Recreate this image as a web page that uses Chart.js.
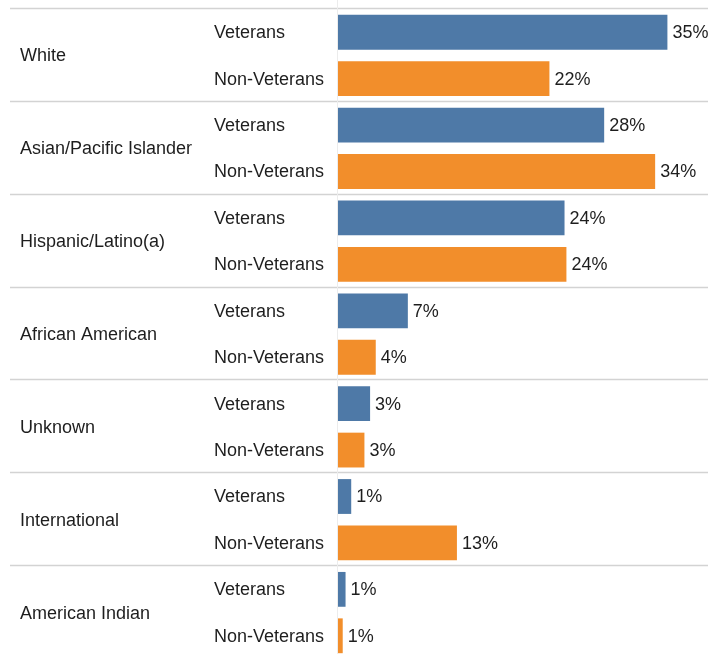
<!DOCTYPE html>
<html>
<head>
<meta charset="utf-8">
<script src="https://cdn.jsdelivr.net/npm/chart.js@4"></script>
<style>
  html, body { margin: 0; padding: 0; background: #fff; overflow: hidden; }
  #wrap { width: 708px; height: 662px; position: relative; }
</style>
</head>
<body>
<div id="wrap"><canvas id="chart"></canvas></div>
<script>
// data
const groups = ['White', 'Asian/Pacific Islander', 'Hispanic/Latino(a)', 'African American', 'Unknown', 'International', 'American Indian'];
const subgroups = ['Veterans', 'Non-Veterans'];
const veterans = [34.9, 28.2, 24.0, 7.4, 3.4, 1.4, 0.8];
const nonVeterans = [22.4, 33.6, 24.2, 4.0, 2.8, 12.6, 0.5];

const BLUE = '#4e79a7';
const ORANGE = '#f28e2b';
const FONT = '"Liberation Sans", Arial, sans-serif';

const rowLabels = [];
const rowValues = [];
const rowColors = [];
groups.forEach((g, i) => {
    rowLabels.push(g + '|' + subgroups[0]);
    rowValues.push(veterans[i]);
    rowColors.push(BLUE);
    rowLabels.push(g + '|' + subgroups[1]);
    rowValues.push(nonVeterans[i]);
    rowColors.push(ORANGE);
});

const tablePlugin = {
    id: 'table',
    beforeDatasetsDraw(chart) {
        const { ctx, chartArea, scales } = chart;
        const y = scales.y;
        const band = (chartArea.bottom - chartArea.top) / rowLabels.length;
        ctx.save();
        // group separators
        ctx.strokeStyle = '#d3d3d3';
        ctx.lineWidth = 1.5;
        groups.forEach((g, i) => {
            const yy = Math.round(y.getPixelForValue(i * 2) - band / 2) - 0.5;
            ctx.beginPath();
            ctx.moveTo(10, yy);
            ctx.lineTo(chart.width, yy);
            ctx.stroke();
        });
        // zero line
        const x0 = Math.round(scales.x.getPixelForValue(0)) - 0.5;
        ctx.strokeStyle = '#ececec';
        ctx.lineWidth = 1;
        ctx.beginPath();
        ctx.moveTo(x0, 0);
        ctx.lineTo(x0, chart.height);
        ctx.stroke();

        // text columns
        ctx.fillStyle = '#1e1e1e';
        ctx.font = '18px ' + FONT;
        ctx.textBaseline = 'middle';
        ctx.textAlign = 'left';
        groups.forEach((g, i) => {
            const yv = y.getPixelForValue(i * 2) + 1;
            const yn = y.getPixelForValue(i * 2 + 1) + 1;
            ctx.fillText(g, 20, (yv + yn) / 2);
            ctx.fillText(subgroups[0], 214, yv);
            ctx.fillText(subgroups[1], 214, yn);
        });
        ctx.restore();
    },
    afterDatasetsDraw(chart) {
        const { ctx } = chart;
        const meta = chart.getDatasetMeta(0);
        ctx.save();
        ctx.fillStyle = '#1e1e1e';
        ctx.font = '18px ' + FONT;
        ctx.textBaseline = 'middle';
        ctx.textAlign = 'left';
        meta.data.forEach((bar, i) => {
            ctx.fillText(Math.round(rowValues[i]) + '%', bar.x + 5, bar.y + 1);
        });
        ctx.restore();
    }
};

new Chart(document.getElementById('chart'), {
    type: 'bar',
    data: {
        labels: rowLabels,
        datasets: [{
            data: rowValues,
            backgroundColor: rowColors,
            borderWidth: 0,
            barPercentage: 0.75,
            categoryPercentage: 1
        }]
    },
    options: {
        indexAxis: 'y',
        responsive: true,
        maintainAspectRatio: false,
        animation: false,
        layout: { padding: { left: 338, top: 9, right: 0, bottom: 3 } },
        plugins: { legend: { display: false }, tooltip: { enabled: false } },
        scales: {
            x: { display: false, min: 0, max: 39.2 },
            y: { display: false }
        }
    },
    plugins: [tablePlugin]
});
</script>
</body>
</html>
